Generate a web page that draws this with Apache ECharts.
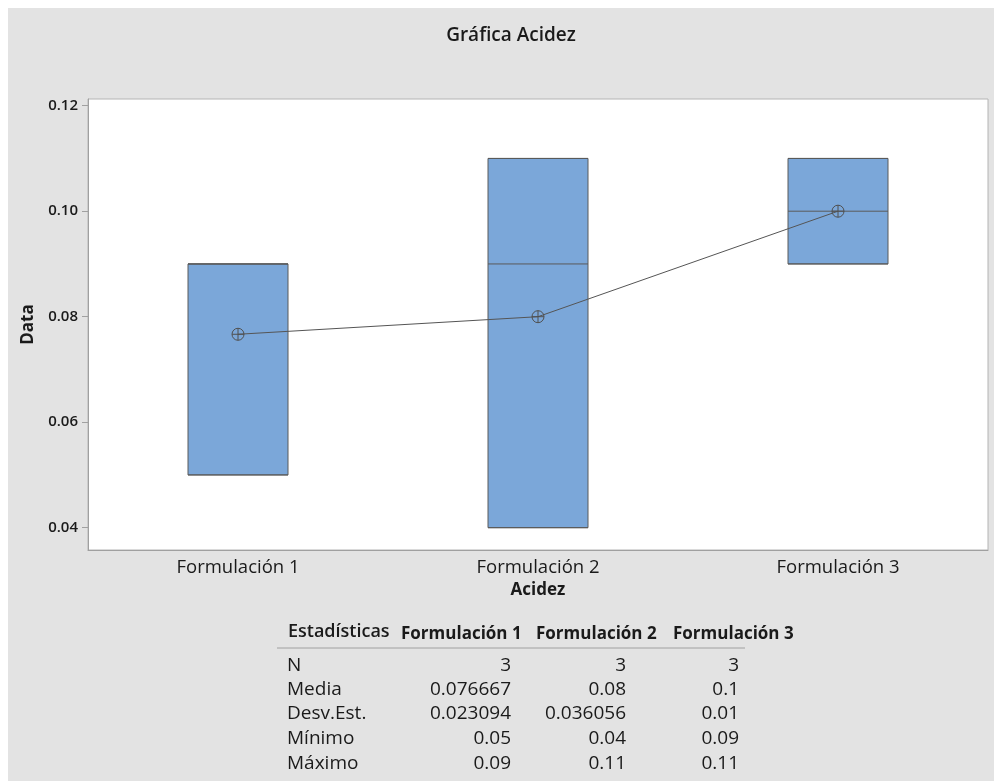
<!DOCTYPE html>
<html>
<head>
<meta charset="utf-8">
<script src="https://cdn.jsdelivr.net/npm/echarts@6/dist/echarts.min.js"></script>
<style>
  html, body { margin: 0; padding: 0; background: #ffffff; }
  #chart { position: absolute; left: 8px; top: 8px; width: 986px; height: 773px; }
</style>
</head>
<body>
<div id="chart"></div>
<script>
// Acidity per formulation: box = quartile range, line = median, crossed circles = means
const categories = ['Formulación 1', 'Formulación 2', 'Formulación 3'];
const nValues   = [3, 3, 3];
const means     = [0.076667, 0.08, 0.1];
const stdDevs   = [0.023094, 0.036056, 0.01];
const minimums  = [0.05, 0.04, 0.09];
const q1Values  = [0.05, 0.04, 0.09];
const medians   = [0.09, 0.09, 0.10];
const q3Values  = [0.09, 0.11, 0.11];
const maximums  = [0.09, 0.11, 0.11];
const yTicks    = [0.04, 0.06, 0.08, 0.10, 0.12];
const statLabels = ['N', 'Media', 'Desv.Est.', 'Mínimo', 'Máximo'];

const FONT = '"Open Sans", "Noto Sans", sans-serif';
const OFF = 8; // chart div offset inside the page

const boxData = categories.map((c, i) =>
  [minimums[i], q1Values[i], medians[i], q3Values[i], maximums[i]]);

// statistics table below the plot
const statRows = [nValues, means, stdDevs, minimums, maximums];
const tableEls = [];
tableEls.push({
  type: 'text', x: 288 - OFF, y: 632 - OFF,
  style: { text: 'Estadísticas', font: '600 18px ' + FONT, fill: '#1a1a1a', verticalAlign: 'middle' }
});
const headerX = [401, 536, 673];
categories.forEach((c, j) => {
  tableEls.push({
    type: 'text', x: headerX[j] - OFF, y: 634 - OFF,
    style: { text: c, font: '700 17px ' + FONT, fill: '#1a1a1a', verticalAlign: 'middle' }
  });
});
tableEls.push({
  type: 'line',
  shape: { x1: 277 - OFF, y1: 648 - OFF, x2: 745 - OFF, y2: 648 - OFF },
  style: { stroke: '#a0a0a0', lineWidth: 1 }
});
const rowY = [666, 690, 714, 739, 764];
const colRight = [511, 626, 739];
statLabels.forEach((lab, r) => {
  tableEls.push({
    type: 'text', x: 287 - OFF, y: rowY[r] - OFF,
    style: { text: lab, font: '19px ' + FONT, fill: '#1a1a1a', verticalAlign: 'middle', align: 'left' }
  });
  statRows[r].forEach((v, j) => {
    tableEls.push({
      type: 'text', x: colRight[j] - OFF, y: rowY[r] - OFF,
      style: { text: String(v), font: '19px ' + FONT, fill: '#1a1a1a', verticalAlign: 'middle', align: 'right' }
    });
  });
});
tableEls.push({
  type: 'text', x: 511 - OFF, y: 36 - OFF,
  style: { text: 'Gráfica Acidez', font: '600 19px ' + FONT, fill: '#1a1a1a', align: 'center', verticalAlign: 'middle' }
});

const chart = echarts.init(document.getElementById('chart'), null, { renderer: 'canvas' });
chart.setOption({
  backgroundColor: '#e3e3e3',
  animation: false,
  grid: {
    left: 88 - OFF, top: 99 - OFF, width: 900, height: 451,
    show: true, backgroundColor: '#ffffff', borderColor: '#b4b4b4', borderWidth: 1
  },
  xAxis: {
    type: 'category',
    data: categories,
    boundaryGap: true,
    name: 'Acidez',
    nameLocation: 'middle',
    nameGap: 32,
    nameTextStyle: { fontFamily: FONT, fontSize: 17, fontWeight: 700, color: '#1a1a1a' },
    axisLine: { lineStyle: { color: '#a0a0a0' } },
    axisTick: { alignWithLabel: true, length: 5, lineStyle: { color: '#a0a0a0' } },
    axisLabel: { fontFamily: FONT, fontSize: 18.5, color: '#1a1a1a', margin: 8 },
    splitLine: { show: false }
  },
  yAxis: {
    type: 'value',
    min: 0.03577,
    max: 0.12127,
    name: 'Data',
    nameLocation: 'middle',
    nameGap: 51,
    nameTextStyle: { fontFamily: FONT, fontSize: 17, fontWeight: 700, color: '#1a1a1a' },
    axisLine: { show: true, lineStyle: { color: '#a0a0a0' } },
    axisTick: { show: true, length: 6, customValues: yTicks, lineStyle: { color: '#a0a0a0' } },
    axisLabel: {
      customValues: yTicks, fontFamily: FONT, fontSize: 15, fontWeight: 600, color: '#1a1a1a', margin: 10,
      formatter: v => v.toFixed(2)
    },
    splitLine: { show: false }
  },
  series: [
    {
      type: 'boxplot',
      data: boxData,
      boxWidth: [100, 100],
      itemStyle: { color: '#7ba7d9', borderColor: '#5a5a5a', borderWidth: 1 },
      emphasis: { disabled: true }
    },
    {
      type: 'line',
      data: means,
      symbol: 'none',
      lineStyle: { color: '#555555', width: 1 },
      z: 5
    },
    {
      type: 'custom',
      data: means.map((m, i) => [i, m]),
      z: 6,
      renderItem: (params, api) => {
        const p = api.coord([api.value(0), api.value(1)]);
        const r = 6;
        const st = { stroke: '#505050', lineWidth: 1, fill: null };
        return {
          type: 'group',
          children: [
            { type: 'circle', shape: { cx: p[0], cy: p[1], r: r }, style: st },
            { type: 'line', shape: { x1: p[0] - r, y1: p[1], x2: p[0] + r, y2: p[1] }, style: st },
            { type: 'line', shape: { x1: p[0], y1: p[1] - r, x2: p[0], y2: p[1] + r }, style: st }
          ]
        };
      }
    }
  ],
  graphic: tableEls
});
</script>
</body>
</html>
